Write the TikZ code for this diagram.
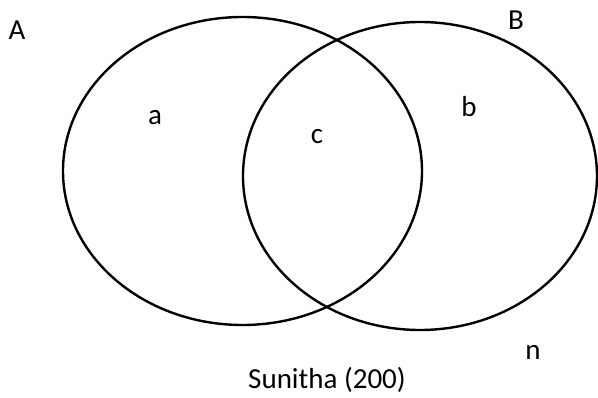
\documentclass[tikz,border=0pt]{standalone}
\usepackage{fontspec}
\setmainfont{Carlito}
\usepackage{tikz}
\usetikzlibrary{calc}

\tikzset{
  setline/.style={line width=2.4pt, black},
  setlabel/.style={inner sep=0pt, font=\fontsize{29}{35}\selectfont},
}

\begin{document}
\begin{tikzpicture}[x=1pt,y=1pt]
\useasboundingbox (0,0) rectangle (598,397);

\coordinate (cA) at (242.5,226);
\coordinate (cB) at (420,221);

\draw[setline] (cA) ellipse [x radius=179.5, y radius=154];
\draw[setline] (cB) ellipse [x radius=177, y radius=154];

\node[setlabel] (labA) at (17,367) {A};
\node[setlabel] (labB) at (516,377) {B};
\node[setlabel] (laba) at (155,279) {a};
\node[setlabel] (labc) at (317,260) {c};
\node[setlabel] (labb) at (469,290) {b};
\node[setlabel] (labn) at (533,45) {n};
\node[setlabel] (title) at (327,17) {Sunitha (200)};

\end{tikzpicture}
\end{document}
